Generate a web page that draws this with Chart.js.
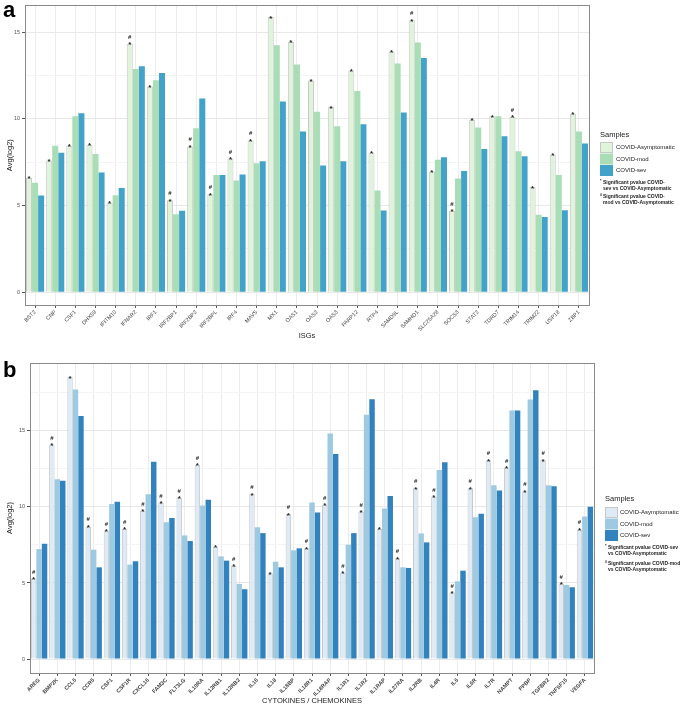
<!DOCTYPE html>
<html>
<head>
<meta charset="utf-8">
<script src="https://cdn.jsdelivr.net/npm/chart.js@4.4.1/dist/chart.umd.min.js"></script>
<style>
  html, body { margin: 0; padding: 0; background: #fff; }
  canvas { display: block; }
</style>
</head>
<body>
<canvas id="chartA" width="684" height="340"></canvas>
<canvas id="chartB" width="684" height="365"></canvas>
<script>
// Panel a - ISGs
const isgLabels = ['BST2', 'CNP', 'CSF1', 'DHX58', 'IFITM10', 'IFNAR2', 'IRF1', 'IRF2BP1', 'IRF2BP2', 'IRF2BPL',
    'IRF4', 'MAVS', 'MX1', 'OAS1', 'OAS2', 'OAS3', 'PARP12', 'RTP4', 'SAMD9L', 'SAMHD1',
    'SLC25A28', 'SOCS3', 'STAT2', 'TDRD7', 'TRIM14', 'TRIM22', 'USP18', 'ZBP1'];
const isgAsym = [6.60, 7.59, 8.44, 8.50, 5.15, 14.32, 11.86, 5.30, 8.40, 5.65,
    7.70, 8.75, 15.86, 14.43, 12.20, 10.67, 12.78, 8.06, 13.86, 15.68,
    6.96, 4.70, 9.94, 10.15, 10.10, 6.06, 7.93, 10.29];
const isgMod = [6.31, 8.44, 10.15, 7.97, 5.59, 12.87, 12.22, 4.49, 9.45, 6.75,
    6.44, 7.43, 14.24, 13.12, 10.40, 9.56, 11.60, 5.86, 13.19, 14.39,
    7.64, 6.56, 9.49, 10.15, 8.12, 4.47, 6.75, 9.26];
const isgSev = [5.57, 8.04, 10.32, 6.90, 6.00, 13.02, 12.64, 4.70, 11.16, 6.75,
    6.79, 7.55, 11.00, 9.26, 7.30, 7.55, 9.68, 4.71, 10.36, 13.50,
    7.78, 6.98, 8.25, 8.99, 7.83, 4.33, 4.73, 8.57];
const isgSig = ['*', '*', '*', '*', '*', '#*', '*', '#*', '#*', '#*',
    '#*', '#*', '*', '*', '*', '*', '*', '*', '*', '#*',
    '*', '#*', '*', '*', '#*', '*', '*', '*'];

// Panel b - cytokines / chemokines
const cytLabels = ['AREG', 'BMP2K', 'CCL5', 'CCR5', 'CSF1', 'CSF1R', 'CXCL16', 'FAM3C', 'FLT3LG', 'IL10RA',
    'IL12RB1', 'IL12RB2', 'IL16', 'IL18', 'IL18BP', 'IL18R1', 'IL18RAP', 'IL1R1', 'IL1R2', 'IL1RAP',
    'IL27RA', 'IL2RB', 'IL4R', 'IL6', 'IL6R', 'IL7R', 'NAMPT', 'PPBP', 'TGFBR2', 'TNFSF15', 'VEGFA'];
const cytAsym = [5.29, 14.10, 18.53, 8.72, 8.44, 8.57, 9.75, 10.27, 10.60, 12.77,
    7.39, 6.12, 10.84, 5.62, 9.53, 7.28, 10.14, 5.68, 9.70, 8.57,
    6.62, 11.23, 10.67, 4.37, 11.23, 13.07, 12.59, 11.04, 13.07, 4.96, 8.52];
const cytMod = [7.23, 11.83, 17.73, 7.19, 10.19, 6.21, 10.84, 9.00, 8.13, 10.10,
    6.75, 4.94, 8.66, 6.40, 7.15, 10.30, 14.84, 7.52, 16.07, 9.90,
    6.03, 8.26, 12.44, 5.11, 9.33, 11.43, 16.35, 17.07, 11.43, 4.87, 9.38];
const cytSev = [7.58, 11.72, 15.98, 6.03, 10.34, 6.43, 12.98, 9.27, 7.76, 10.47,
    6.47, 4.59, 8.28, 6.03, 7.28, 9.64, 13.49, 8.28, 17.09, 10.73,
    5.99, 7.67, 12.94, 5.81, 9.55, 11.08, 16.35, 17.68, 11.37, 4.72, 10.01];
const cytSig = ['#*', '#*', '*', '#*', '#*', '#*', '#*', '#*', '#*', '#*',
    '*', '#*', '#*', '*', '#*', '#*', '#*', '#*', '#*', '*',
    '#*', '#*', '#*', '#*', '#*', '#*', '#*', '#*', '#*', '#*', '#*'];

const groupNames = ['COVID-Asymptomatic', 'COVID-mod', 'COVID-sev'];
const yTicks = [0, 2.5, 5, 7.5, 10, 12.5, 15, 17.5];

const FONT = "'Liberation Sans', Arial, sans-serif";

// Draws the panel border, significance marks, legend and panel letter
function panelPlugin(opt) {
    return {
        id: 'panelExtras',
        afterDraw(chart) {
            const ctx = chart.ctx;
            const a = chart.chartArea;
            ctx.save();

            // panel border
            ctx.strokeStyle = '#8a8a8a';
            ctx.lineWidth = 1;
            ctx.strokeRect(Math.round(a.left) + 0.5, Math.round(a.top) + 0.5,
                Math.round(a.right - a.left), Math.round(a.bottom - a.top));

            // significance marks above the asymptomatic bar
            const meta = chart.getDatasetMeta(0);
            ctx.fillStyle = '#222';
            ctx.textAlign = 'center';
            ctx.textBaseline = 'alphabetic';
            opt.sig.forEach((s, i) => {
                const bar = meta.data[i];
                if (!bar) return;
                ctx.font = 'bold 8px ' + FONT;
                ctx.fillText('*', bar.x, bar.y + 3.5);
                if (s.indexOf('#') >= 0) {
                    ctx.font = 'bold 6px ' + FONT;
                    ctx.fillText('#', bar.x, bar.y - 5);
                }
            });

            // legend
            const lg = opt.legend;
            ctx.textAlign = 'left';
            ctx.textBaseline = 'middle';
            ctx.fillStyle = '#1a1a1a';
            ctx.font = '7.5px ' + FONT;
            ctx.fillText('Samples', lg.x, lg.titleY);
            ctx.font = '6px ' + FONT;
            opt.colors.forEach((c, i) => {
                const y = lg.rowY + i * lg.rowStep;
                ctx.fillStyle = c;
                ctx.fillRect(lg.x, y, 13, 11);
                if (i === 0) {
                    ctx.strokeStyle = '#c8c8c8';
                    ctx.strokeRect(lg.x + 0.5, y + 0.5, 12, 10);
                }
                ctx.fillStyle = '#1a1a1a';
                ctx.fillText(groupNames[i], lg.x + lg.textDx, y + 5.5);
            });

            // notes
            ctx.fillStyle = '#222';
            opt.notes.forEach(n => {
                ctx.font = 'bold 4px ' + FONT;
                ctx.fillText(n.sym, lg.x, n.y - 2);
                ctx.font = 'bold 5px ' + FONT;
                n.lines.forEach((t, k) => ctx.fillText(t, lg.x + 3, n.y + k * 5.5));
            });

            // panel letter
            ctx.font = 'bold 22px ' + FONT;
            ctx.fillStyle = '#000';
            ctx.textBaseline = 'alphabetic';
            ctx.fillText(opt.letter, opt.letterX, opt.letterY);
            ctx.restore();
        }
    };
}

function makePanel(id, o) {
    const ctx = document.getElementById(id).getContext('2d');
    return new Chart(ctx, {
        type: 'bar',
        data: {
            labels: o.labels,
            datasets: o.values.map((v, i) => ({
                label: groupNames[i],
                data: v,
                backgroundColor: o.colors[i],
                borderColor: i === 0 ? '#c8c8c8' : o.colors[i],
                borderWidth: i === 0 ? 1 : 0,
                categoryPercentage: 0.9,
                barPercentage: 1.0
            }))
        },
        options: {
            responsive: false,
            animation: false,
            devicePixelRatio: 1,
            layout: { padding: o.padding },
            plugins: {
                legend: { display: false },
                tooltip: { enabled: false }
            },
            scales: {
                x: {
                    grid: {
                        offset: false,
                        color: '#ececec',
                        tickLength: 3,
                        tickColor: '#555'
                    },
                    border: { display: false },
                    ticks: {
                        autoSkip: false,
                        minRotation: 45,
                        maxRotation: 45,
                        padding: 1,
                        color: '#444',
                        font: { family: FONT, size: 5.5, weight: o.boldX ? 'bold' : 'normal' }
                    },
                    title: {
                        display: true,
                        text: o.xTitle,
                        color: '#222',
                        padding: { top: 0, bottom: 0 },
                        font: { family: FONT, size: 7.5 }
                    },
                    afterFit: s => { s.height = o.xHeight; }
                },
                y: {
                    min: o.yMin,
                    max: o.yMax,
                    afterBuildTicks: s => {
                        s.ticks = yTicks.filter(v => v <= o.yMax).map(v => ({ value: v }));
                    },
                    grid: {
                        color: c => (c.tick && c.tick.value % 5 === 0) ? '#e8e8e8' : '#f4f4f4',
                        tickLength: 3,
                        tickColor: c => (c.tick && c.tick.value % 5 === 0) ? '#555' : 'rgba(0,0,0,0)'
                    },
                    border: { display: false },
                    ticks: {
                        padding: 2,
                        color: '#555',
                        font: { family: FONT, size: 5.5 },
                        callback: v => (v % 5 === 0 ? String(v) : '')
                    },
                    title: {
                        display: true,
                        text: 'Avg(log2)',
                        color: '#222',
                        padding: { top: 0, bottom: 0 },
                        font: { family: FONT, size: 7.5 }
                    },
                    afterFit: s => { s.width = o.yWidth; }
                }
            }
        },
        plugins: [panelPlugin(o)]
    });
}

makePanel('chartA', {
    labels: isgLabels,
    values: [isgAsym, isgMod, isgSev],
    sig: isgSig,
    colors: ['#e0f3db', '#a8ddb5', '#43a2ca'],
    boldX: false,
    xTitle: 'ISGs',
    padding: { left: 5, top: 0, right: 95, bottom: 0 },
    xHeight: 35,
    yWidth: 20,
    yMin: -0.74,
    yMax: 16.54,
    letter: 'a', letterX: 3, letterY: 17,
    legend: { x: 600, titleY: 135, rowY: 142, rowStep: 11.5, textDx: 16 },
    notes: [
        { sym: '*', y: 183, lines: ['Significant pvalue COVID-', 'sev vs COVID-Asymptomatic'] },
        { sym: '#', y: 197, lines: ['Significant pvalue COVID-', 'mod vs COVID-Asymptomatic'] }
    ]
});

makePanel('chartB', {
    labels: cytLabels,
    values: [cytAsym, cytMod, cytSev],
    sig: cytSig,
    colors: ['#deebf7', '#9ecae1', '#3182bd'],
    boldX: true,
    xTitle: 'CYTOKINES / CHEMOKINES',
    padding: { left: 5, top: 23, right: 90, bottom: 0 },
    xHeight: 32,
    yWidth: 25,
    yMin: -0.92,
    yMax: 19.47,
    letter: 'b', letterX: 3, letterY: 37,
    legend: { x: 605, titleY: 159, rowY: 167, rowStep: 11.5, textDx: 15 },
    notes: [
        { sym: '*', y: 208, lines: ['Significant pvalue COVID-sev', 'vs COVID-Asymptomatic'] },
        { sym: '#', y: 224, lines: ['Significant pvalue COVID-mod', 'vs COVID-Asymptomatic'] }
    ]
});
</script>
</body>
</html>
